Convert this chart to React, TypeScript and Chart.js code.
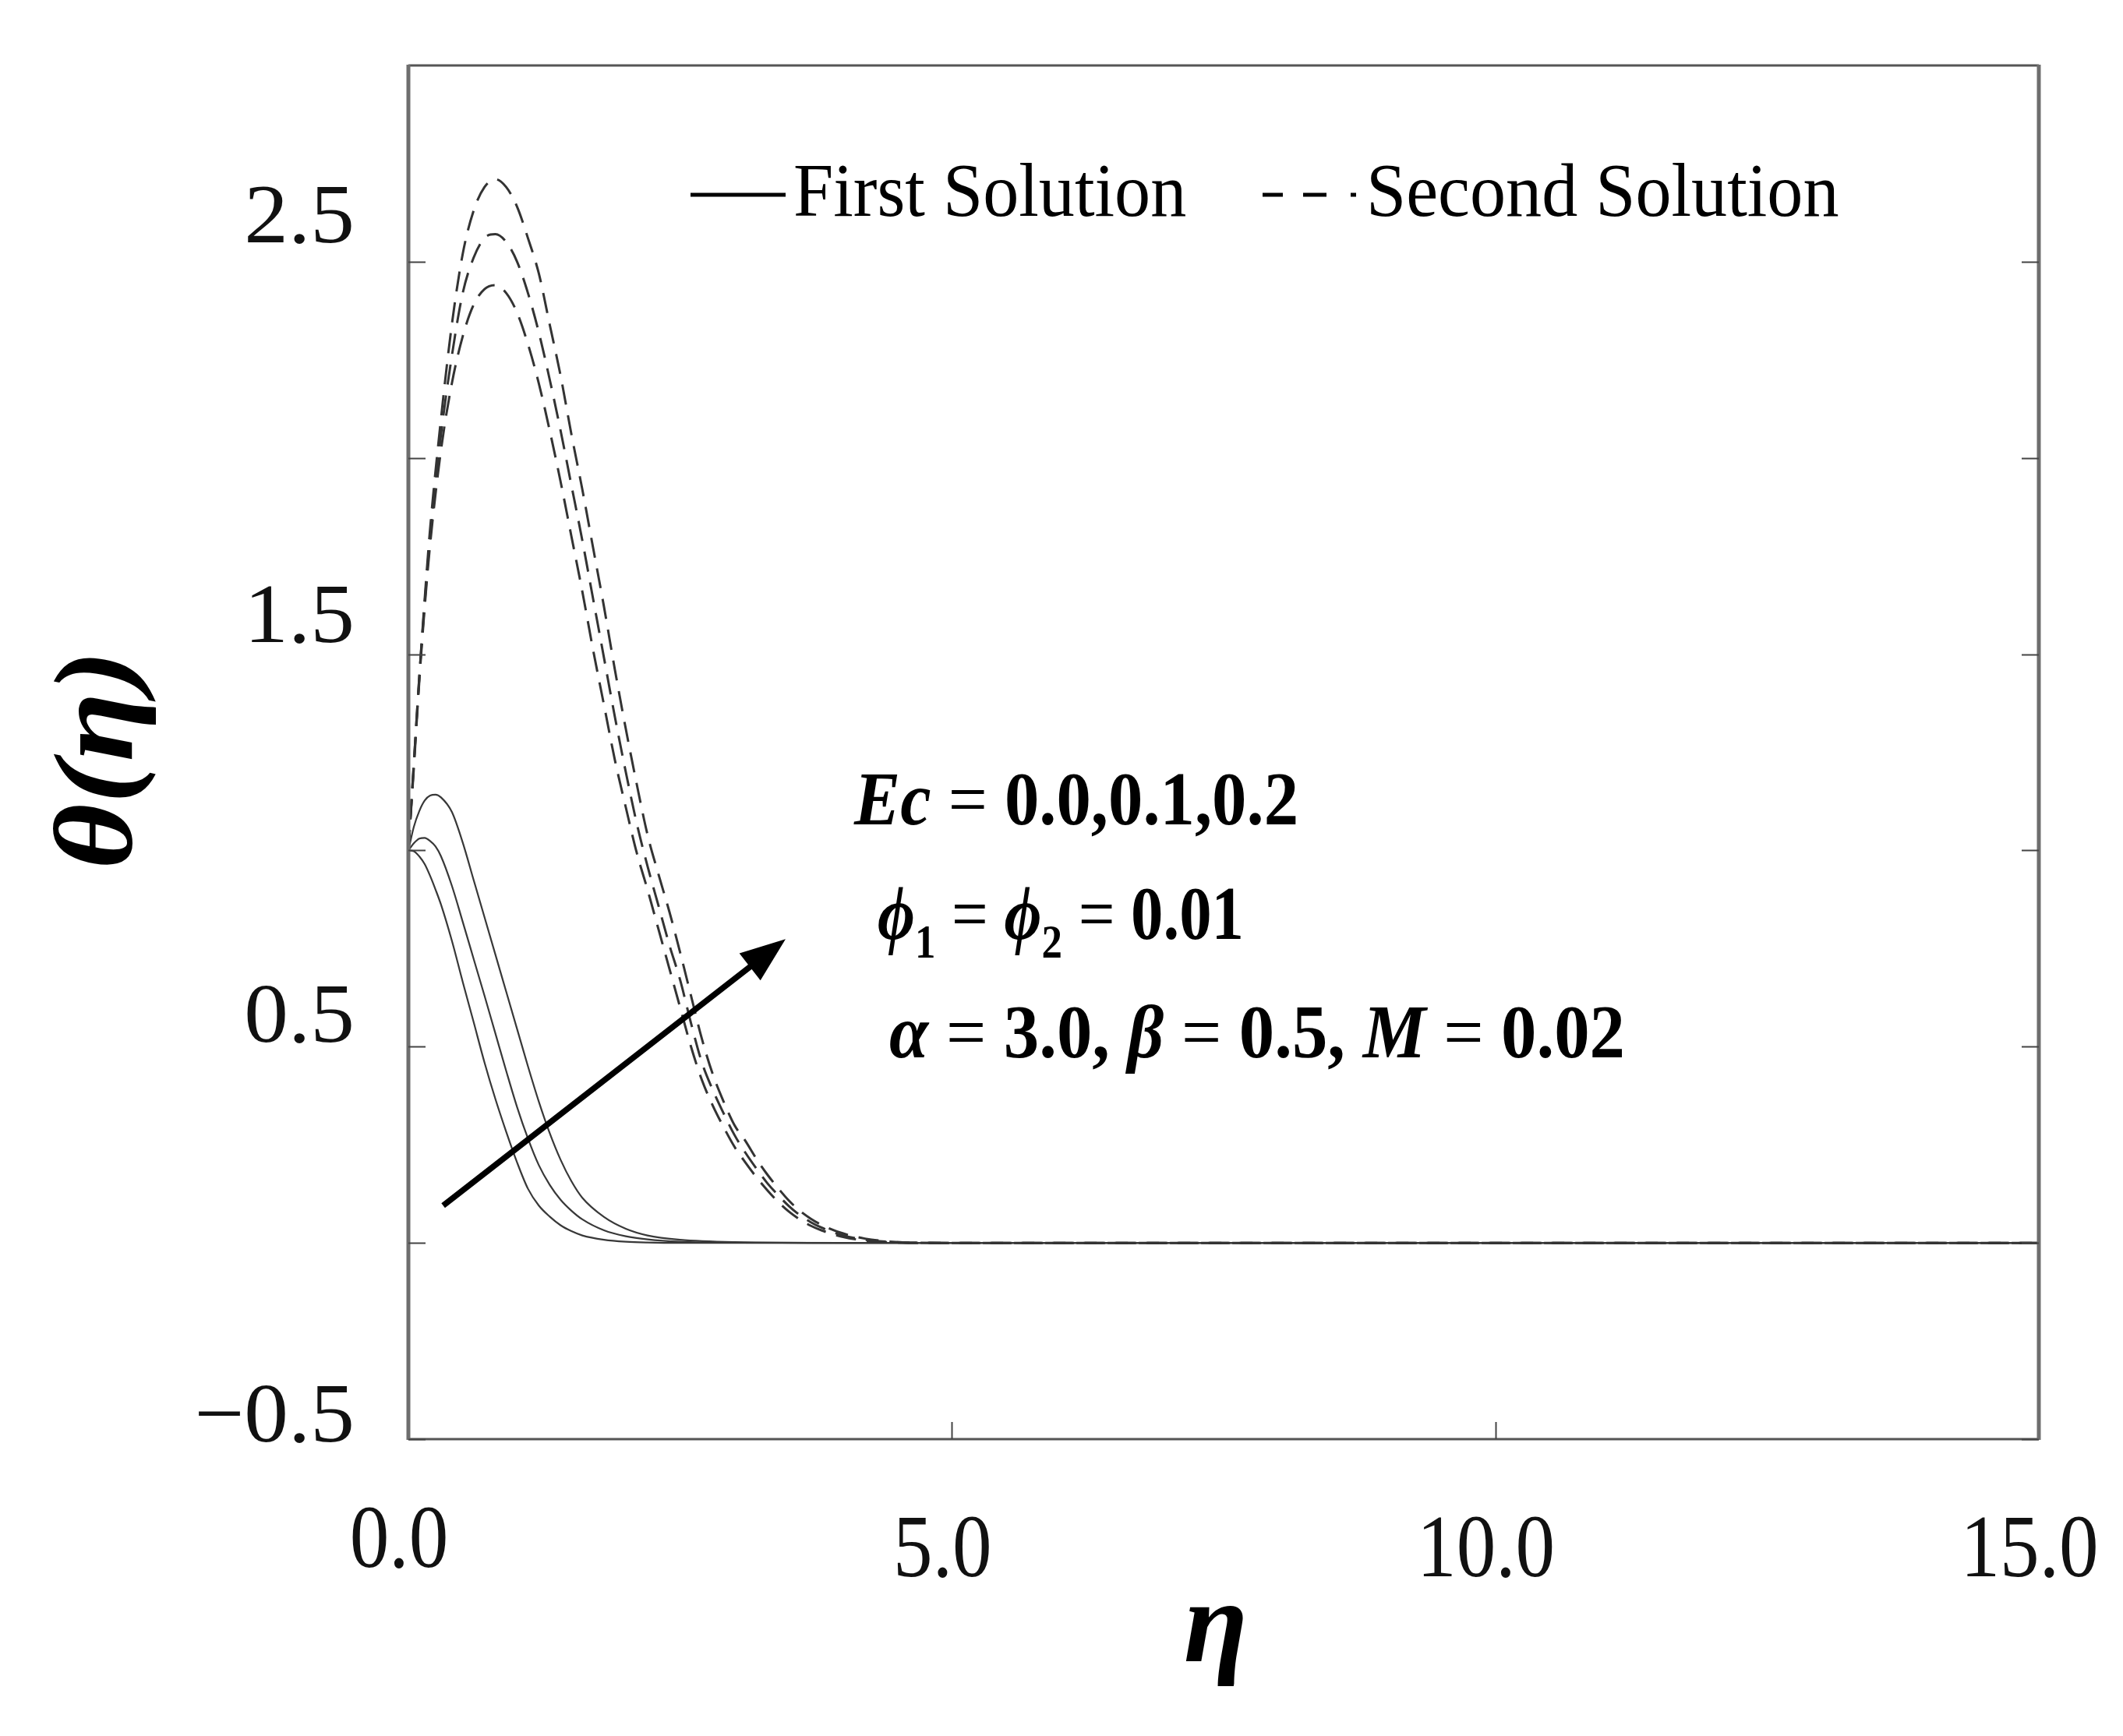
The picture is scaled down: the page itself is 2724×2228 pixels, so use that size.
import React, { useEffect, useRef } from "react";
import { Chart, registerables } from "chart.js";

Chart.register(...registerables);

const W = 2724;
const H = 2228;

// ---------- data ----------
const etaFirst = [0, 0.05, 0.1, 0.15, 0.2, 0.25, 0.3, 0.4, 0.5, 0.6, 0.7, 0.8, 0.9, 1.0, 1.1, 1.2, 1.3, 1.4, 1.5, 1.6, 1.8, 2.0, 2.2, 2.5, 3.0, 4.0, 6.0, 10.0, 15.0];
const thetaFirstEc00 = [1.0, 0.998, 0.985, 0.965, 0.935, 0.9, 0.862, 0.77, 0.665, 0.563, 0.46, 0.367, 0.283, 0.205, 0.138, 0.095, 0.067, 0.045, 0.03, 0.019, 0.008, 0.003, 0.001, 0, 0, 0, 0, 0, 0];
const thetaFirstEc01 = [1.0, 1.018, 1.03, 1.032, 1.024, 1.01, 0.985, 0.91, 0.818, 0.724, 0.63, 0.534, 0.438, 0.346, 0.266, 0.198, 0.148, 0.11, 0.082, 0.06, 0.032, 0.017, 0.009, 0.003, 0.0005, 0, 0, 0, 0];
const thetaFirstEc02 = [1.0, 1.06, 1.1, 1.127, 1.14, 1.142, 1.135, 1.098, 1.02, 0.925, 0.83, 0.735, 0.64, 0.545, 0.45, 0.36, 0.28, 0.212, 0.157, 0.115, 0.066, 0.036, 0.019, 0.008, 0.002, 0, 0, 0, 0];

const etaSecond = [0, 0.05, 0.1, 0.15, 0.2, 0.3, 0.4, 0.5, 0.6, 0.7, 0.8, 0.9, 1.0, 1.1, 1.2, 1.3, 1.4, 1.5, 1.6, 1.7, 1.8, 1.9, 2.0, 2.1, 2.2, 2.3, 2.4, 2.5, 2.6, 2.7, 2.8, 2.9, 3.0, 3.1, 3.2, 3.3, 3.4, 3.5, 3.6, 3.7, 3.8, 4.0, 4.2, 4.4, 4.6, 5.0, 6.0, 10.0, 15.0];
const thetaSecondEc00 = [1.0, 1.21, 1.43, 1.62, 1.78, 2.02, 2.19, 2.31, 2.39, 2.43, 2.44, 2.42, 2.37, 2.29, 2.19, 2.07, 1.94, 1.8, 1.66, 1.51, 1.37, 1.23, 1.11, 0.995, 0.9, 0.8, 0.7, 0.6, 0.5, 0.415, 0.35, 0.295, 0.245, 0.205, 0.168, 0.135, 0.105, 0.08, 0.06, 0.044, 0.032, 0.015, 0.006, 0.002, 0, 0, 0, 0, 0];
const thetaSecondEc01 = [1.0, 1.22, 1.44, 1.63, 1.8, 2.06, 2.26, 2.42, 2.51, 2.56, 2.57, 2.55, 2.5, 2.42, 2.32, 2.2, 2.07, 1.93, 1.79, 1.64, 1.49, 1.34, 1.2, 1.07, 0.96, 0.86, 0.76, 0.67, 0.56, 0.46, 0.39, 0.33, 0.275, 0.23, 0.19, 0.153, 0.122, 0.094, 0.071, 0.053, 0.039, 0.019, 0.008, 0.003, 0.001, 0, 0, 0, 0];
const thetaSecondEc02 = [1.0, 1.22, 1.44, 1.64, 1.82, 2.1, 2.34, 2.52, 2.63, 2.69, 2.71, 2.69, 2.64, 2.56, 2.47, 2.34, 2.21, 2.06, 1.92, 1.77, 1.62, 1.46, 1.31, 1.17, 1.04, 0.94, 0.845, 0.74, 0.63, 0.52, 0.43, 0.36, 0.3, 0.26, 0.215, 0.175, 0.14, 0.108, 0.082, 0.062, 0.046, 0.024, 0.011, 0.004, 0.001, 0, 0, 0, 0];

const xMin = 0;
const xMax = 15;
const yMin = -0.5;
const yMax = 3.0;
const yTickValues = [-0.5, 0, 0.5, 1.0, 1.5, 2.0, 2.5];
const yLabelValues = [-0.5, 0.5, 1.5, 2.5];
const xTickValues = [5, 10];
const xLabelValues = [0, 5, 10, 15];
const legendLabels = ["First Solution", "Second Solution"];
const xTitle = "η";
const yTitle = "θ(η)";
const arrowTail = { x: 0.32, y: 0.095 };
const arrowHead = { x: 3.47, y: 0.774 };

const pts = (xs: number[], ys: number[]) => xs.map((x, i) => ({ x, y: ys[i] }));

type Seg = { t: string; f: string; dy?: number };

const SERIF = '"Liberation Serif", "DejaVu Serif", serif';
const BI = `bold italic 97px ${SERIF}`;
const RG = `97px ${SERIF}`;
const BD = `bold 97px ${SERIF}`;
const SUB = `bold 62px ${SERIF}`;

const annotLines: { segs: Seg[]; x: number; base: number; w: number }[] = [
  { segs: [{ t: "Ec", f: BI }, { t: " = ", f: RG }, { t: "0.0,0.1,0.2", f: BD }], x: 1096, base: 1058, w: 570 },
  {
    segs: [
      { t: "ϕ", f: BI }, { t: "1", f: SUB, dy: 24 }, { t: " = ", f: RG },
      { t: "ϕ", f: BI }, { t: "2", f: SUB, dy: 24 }, { t: " = ", f: RG },
      { t: "0.01", f: BD },
    ],
    x: 1126, base: 1205, w: 470,
  },
  {
    segs: [
      { t: "α", f: BI }, { t: " = ", f: RG }, { t: "3.0, ", f: BD },
      { t: "β", f: BI }, { t: " = ", f: RG }, { t: "0.5, ", f: BD },
      { t: "M", f: BI }, { t: " = ", f: RG }, { t: "0.02", f: BD },
    ],
    x: 1141, base: 1357, w: 944,
  },
];

function drawRich(ctx: CanvasRenderingContext2D, segs: Seg[], x: number, base: number, targetW: number) {
  let total = 0;
  for (const s of segs) {
    ctx.font = s.f;
    total += ctx.measureText(s.t).width;
  }
  const k = targetW / total;
  ctx.save();
  ctx.translate(x, base);
  ctx.scale(k, 1);
  ctx.textAlign = "left";
  ctx.textBaseline = "alphabetic";
  let cx = 0;
  for (const s of segs) {
    ctx.font = s.f;
    ctx.fillText(s.t, cx, s.dy || 0);
    cx += ctx.measureText(s.t).width;
  }
  ctx.restore();
}

function drawScaledText(ctx: CanvasRenderingContext2D, text: string, x: number, y: number, font: string, sx: number, align: CanvasTextAlign, baseline: CanvasTextBaseline) {
  ctx.save();
  ctx.translate(x, y);
  ctx.scale(sx, 1);
  ctx.font = font;
  ctx.textAlign = align;
  ctx.textBaseline = baseline;
  ctx.fillText(text, 0, 0);
  ctx.restore();
}

const decorPlugin = {
  id: "decor",
  beforeDraw(chart: any) {
    const ctx = chart.ctx as CanvasRenderingContext2D;
    ctx.save();
    ctx.fillStyle = "#ffffff";
    ctx.fillRect(0, 0, chart.width, chart.height);
    ctx.restore();
  },
  afterDraw(chart: any) {
    const ctx = chart.ctx as CanvasRenderingContext2D;
    const a = chart.chartArea;
    const xs = chart.scales.x;
    const ys = chart.scales.y;
    ctx.save();

    // frame
    ctx.strokeStyle = "#555";
    ctx.lineWidth = 3;
    ctx.beginPath();
    ctx.moveTo(a.left, a.top);
    ctx.lineTo(a.right, a.top);
    ctx.moveTo(a.left, a.bottom);
    ctx.lineTo(a.right, a.bottom);
    ctx.stroke();
    ctx.strokeStyle = "#6e6e6e";
    ctx.lineWidth = 5;
    ctx.beginPath();
    ctx.moveTo(a.left, a.top - 1);
    ctx.lineTo(a.left, a.bottom + 1);
    ctx.moveTo(a.right, a.top - 1);
    ctx.lineTo(a.right, a.bottom + 1);
    ctx.stroke();

    // ticks
    ctx.strokeStyle = "#444";
    ctx.lineWidth = 2;
    ctx.beginPath();
    for (const v of yTickValues) {
      const py = Math.round(ys.getPixelForValue(v)) + 0.5;
      ctx.moveTo(a.left, py);
      ctx.lineTo(a.left + 22, py);
      ctx.moveTo(a.right, py);
      ctx.lineTo(a.right - 22, py);
    }
    for (const v of xTickValues) {
      const px = Math.round(xs.getPixelForValue(v)) + 0.5;
      ctx.moveTo(px, a.bottom);
      ctx.lineTo(px, a.bottom - 22);
    }
    ctx.stroke();

    // tick labels
    ctx.fillStyle = "#111";
    for (const v of yLabelValues) {
      const py = ys.getPixelForValue(v) - 25 - (v + 0.5) * 9.5;
      const txt = (v < 0 ? "−" : "") + Math.abs(v).toFixed(1);
      drawScaledText(ctx, txt, a.left - 69, py, `108px ${SERIF}`, 1.05, "right", "middle");
    }
    for (const v of xLabelValues) {
      const px = xs.getPixelForValue(v) - 12;
      const py = a.bottom + (v === 0 ? 134 : 146);
      drawScaledText(ctx, v.toFixed(1), px, py, `115px ${SERIF}`, 0.88, "center", "middle");
    }

    // axis titles
    ctx.fillStyle = "#000";
    drawScaledText(ctx, xTitle, 1560, 2132, `bold italic 150px ${SERIF}`, 1, "center", "alphabetic");
    ctx.save();
    ctx.translate(132, 975);
    ctx.rotate(-Math.PI / 2);
    ctx.scale(1.12, 1);
    ctx.font = `bold italic 145px ${SERIF}`;
    ctx.textAlign = "center";
    ctx.textBaseline = "middle";
    ctx.fillText(yTitle, 0, 0);
    ctx.restore();

    // legend
    ctx.strokeStyle = "#000";
    ctx.lineWidth = 5;
    ctx.beginPath();
    ctx.moveTo(886, 250);
    ctx.lineTo(1008, 250);
    ctx.stroke();
    ctx.lineWidth = 5;
    ctx.beginPath();
    ctx.moveTo(1620, 250);
    ctx.lineTo(1646, 250);
    ctx.moveTo(1672, 250);
    ctx.lineTo(1702, 250);
    ctx.moveTo(1733, 250);
    ctx.lineTo(1740, 250);
    ctx.stroke();
    drawScaledText(ctx, legendLabels[0], 1018, 277, `98px ${SERIF}`, 0.94, "left", "alphabetic");
    drawScaledText(ctx, legendLabels[1], 1753, 277, `98px ${SERIF}`, 0.94, "left", "alphabetic");

    // annotation text
    for (const ln of annotLines) drawRich(ctx, ln.segs, ln.x, ln.base, ln.w);

    // arrow
    const x0 = xs.getPixelForValue(arrowTail.x);
    const y0 = ys.getPixelForValue(arrowTail.y);
    const x1 = xs.getPixelForValue(arrowHead.x);
    const y1 = ys.getPixelForValue(arrowHead.y);
    const ang = Math.atan2(y1 - y0, x1 - x0);
    const headLen = 58;
    const headHalf = 22;
    const bx = x1 - headLen * Math.cos(ang);
    const by = y1 - headLen * Math.sin(ang);
    ctx.strokeStyle = "#000";
    ctx.lineWidth = 7.5;
    ctx.lineCap = "butt";
    ctx.beginPath();
    ctx.moveTo(x0, y0);
    ctx.lineTo(bx + 4 * Math.cos(ang), by + 4 * Math.sin(ang));
    ctx.stroke();
    ctx.fillStyle = "#000";
    ctx.beginPath();
    ctx.moveTo(x1, y1);
    ctx.lineTo(bx + headHalf * Math.sin(ang), by - headHalf * Math.cos(ang));
    ctx.lineTo(bx - headHalf * Math.sin(ang), by + headHalf * Math.cos(ang));
    ctx.closePath();
    ctx.fill();

    ctx.restore();
  },
};

export default function App() {
  const ref = useRef<HTMLCanvasElement | null>(null);

  useEffect(() => {
    if (!ref.current) return;
    const solid = { borderColor: "#383838", borderWidth: 2.2, pointRadius: 0, fill: false, cubicInterpolationMode: "monotone" as const };
    const dashed = { borderColor: "#333333", borderWidth: 3, borderDash: [26, 14], pointRadius: 0, fill: false, cubicInterpolationMode: "monotone" as const };
    const chart = new Chart(ref.current, {
      type: "line",
      data: {
        datasets: [
          { label: "Second Ec=0.0", data: pts(etaSecond, thetaSecondEc00), ...dashed },
          { label: "Second Ec=0.1", data: pts(etaSecond, thetaSecondEc01), ...dashed },
          { label: "Second Ec=0.2", data: pts(etaSecond, thetaSecondEc02), ...dashed },
          { label: "First Ec=0.0", data: pts(etaFirst, thetaFirstEc00), ...solid },
          { label: "First Ec=0.1", data: pts(etaFirst, thetaFirstEc01), ...solid },
          { label: "First Ec=0.2", data: pts(etaFirst, thetaFirstEc02), ...solid },
        ],
      },
      options: {
        responsive: false,
        animation: false,
        devicePixelRatio: 1,
        layout: { padding: { left: 524, right: 108, top: 84, bottom: 381 } },
        plugins: {
          legend: { display: false },
          tooltip: { enabled: false },
          title: { display: false },
        },
        scales: {
          x: { type: "linear", min: xMin, max: xMax, display: false },
          y: { type: "linear", min: yMin, max: yMax, display: false },
        },
      },
      plugins: [decorPlugin],
    });
    return () => chart.destroy();
  }, []);

  return (
    <div style={{ position: "fixed", left: 0, top: 0, width: W, height: H, background: "#fff" }}>
      <canvas ref={ref} width={W} height={H} style={{ width: W, height: H, display: "block" }} />
    </div>
  );
}
